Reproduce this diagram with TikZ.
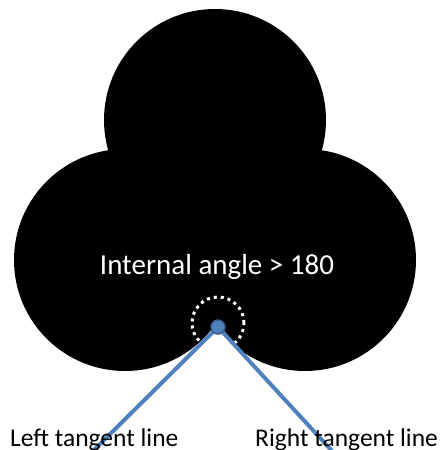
\documentclass[tikz,border=0pt]{standalone}
\usepackage{fontspec}
\setmainfont{Carlito}
\definecolor{offblue}{HTML}{4F81BD}
\definecolor{offblueD}{HTML}{385D8A}
\begin{document}
\begin{tikzpicture}[x=1pt,y=-1pt,
  blob/.style={circle,fill=black,inner sep=0pt,minimum size=222pt},
  tline/.style={offblue,line width=4pt},
  ptstyle/.style={circle,fill=offblue,draw=offblueD,line width=1.5pt,minimum size=14pt,inner sep=0pt},
  lbl/.style={font=\fontsize{25.5}{30}\selectfont,inner sep=0pt}]
\useasboundingbox (0,0) rectangle (440,450);
\begin{scope}
\clip (0,0) rectangle (440,450);
\node[blob] (top) at (215,120) {};
\node[blob] (left) at (125,260) {};
\node[blob] (right) at (305,260) {};
\node[inner sep=0pt,font=\fontsize{29}{34}\selectfont,text=white] (angle) at (217,267) {Internal angle > 180};
\node[circle,draw=white,line width=3pt,dash pattern=on 3pt off 4pt,minimum size=52pt,inner sep=0pt] (ring) at (218,323) {};
\coordinate (lend) at (92,452);
\coordinate (rend) at (333,452);
\draw[tline] (218,327) -- (lend);
\draw[tline] (218,327) -- (rend);
\node[ptstyle] (pt) at (218,327) {};
\node[lbl,anchor=base west] (ltl) at (10,446) {Left tangent line};
\node[lbl,anchor=base west] (rtl) at (255,446) {Right tangent line};
\end{scope}
\end{tikzpicture}
\end{document}
